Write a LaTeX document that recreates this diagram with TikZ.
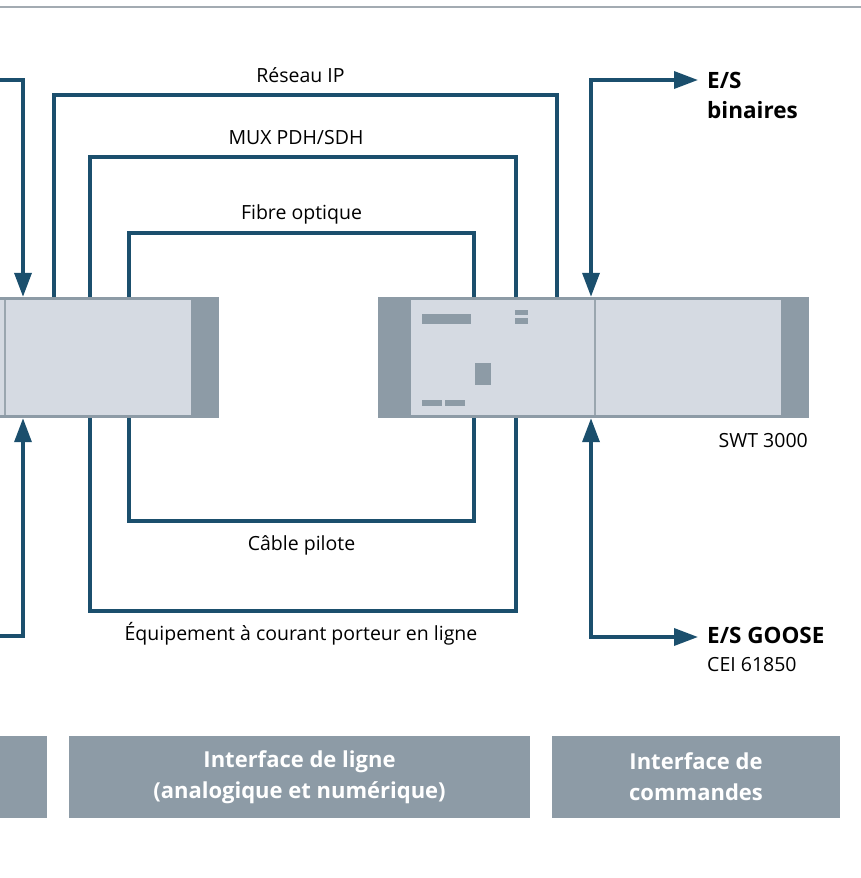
\documentclass[tikz,border=0pt]{standalone}
\usepackage{fontspec}
\setmainfont{Open Sans}
\usetikzlibrary{arrows.meta,positioning}

\definecolor{linkblue}{HTML}{1B4F6D}
\definecolor{devdark}{HTML}{8D9BA6}
\definecolor{devlight}{HTML}{D5DAE2}
\definecolor{divgray}{HTML}{9AA6AF}
\definecolor{rulegray}{HTML}{A3ABB2}

\tikzset{
  link/.style={draw=linkblue, line width=3.5pt},
  io/.style={link, -{Triangle[length=24pt,width=17pt]}},
  iobi/.style={link, {Triangle[length=24pt,width=17pt]}-{Triangle[length=24pt,width=17pt]}},
  device/.style={fill=devdark, minimum width=431pt, minimum height=121pt, inner sep=0pt},
  panel/.style={fill=devlight},
  lbl/.style={font=\fontsize{19.5}{22}\selectfont, inner sep=0pt},
  iolbl/.style={font=\fontsize{22.5}{30}\selectfont\bfseries, inner sep=0pt},
  bar/.style={fill=devdark, text=white, font=\fontsize{22}{31}\selectfont\bfseries,
    align=center, minimum height=82pt, inner sep=0pt},
}

\begin{document}
\begin{tikzpicture}[x=1pt, y=-1pt]

    % Frame of the picture
    \useasboundingbox (0,0) rectangle (861,878);
    \clip (0,0) rectangle (861,878);

    % Top rule
    \draw[rulegray, line width=1.5pt] (0,7) -- (861,7);

    % The two devices (the left one is cut by the frame)
    \node[device] (ldev) at (3.5,357.5) {};
    \node[device] (rdev) at (593.5,357.5) {};
    \fill[panel] (-179,300) rectangle (191,415);
    \fill[panel] (411,300) rectangle (781,415);
    \draw[divgray, line width=1.5pt] (5,300) -- (5,415);
    \draw[divgray, line width=1.5pt] (595,300) -- (595,415);

    % Front details of the right device
    \fill[devdark] (422,314) rectangle (471,324);
    \fill[devdark] (515,310) rectangle (528,315);
    \fill[devdark] (515,318) rectangle (528,324);
    \fill[devdark] (475,363) rectangle (491,385);
    \fill[devdark] (422,400) rectangle (442,406);
    \fill[devdark] (445,400) rectangle (465,406);

    % Corners of the transmission paths
    \coordinate (ipL) at (54,95);   \coordinate (ipR) at (557,95);
    \coordinate (muxL) at (90,157); \coordinate (muxR) at (516,157);
    \coordinate (fibL) at (129,233); \coordinate (fibR) at (474,233);
    \coordinate (pilL) at (129,521); \coordinate (pilR) at (474,521);
    \coordinate (plcL) at (90,611); \coordinate (plcR) at (516,611);

    % Paths above the devices
    \draw[link] (ldev.north -| ipL) -- (ipL) -- (ipR) -- (rdev.north -| ipR);
    \draw[link] (ldev.north -| muxL) -- (muxL) -- (muxR) -- (rdev.north -| muxR);
    \draw[link] (ldev.north -| fibL) -- (fibL) -- (fibR) -- (rdev.north -| fibR);

    % Paths below the devices
    \draw[link] (ldev.south -| pilL) -- (pilL) -- (pilR) -- (rdev.south -| pilR);
    \draw[link] (ldev.south -| plcL) -- (plcL) -- (plcR) -- (rdev.south -| plcR);

    % Path labels
    \path (ipL) -- node[lbl, anchor=base, xshift=-5pt, yshift=13pt] (iplbl) {Réseau IP} (ipR);
    \path (muxL) -- node[lbl, anchor=base, xshift=-7pt, yshift=13pt] (muxlbl) {MUX PDH/SDH} (muxR);
    \path (fibL) -- node[lbl, anchor=base, yshift=14pt] (fiblbl) {Fibre optique} (fibR);
    \path (pilL) -- node[lbl, anchor=base, yshift=-29pt] (pillbl) {Câble pilote} (pilR);
    \path (plcL) -- node[lbl, anchor=base, xshift=-2pt, yshift=-29pt] (plclbl) {Équipement à courant porteur en ligne} (plcR);

    % Inputs and outputs of the devices
    \coordinate (lioT) at ([xshift=19.5pt]ldev.north);
    \coordinate (lioB) at ([xshift=19.5pt]ldev.south);
    \coordinate (rioT) at ([xshift=-2.5pt]rdev.north);
    \coordinate (rioB) at ([xshift=-2.5pt]rdev.south);
    \coordinate (linT) at (-10,80);
    \coordinate (linB) at (-10,636);
    \coordinate (binTip) at (698,80);
    \coordinate (gooseTip) at (698,637);

    \draw[io] (linT) -| (lioT);
    \draw[io] (linB) -| (lioB);
    \draw[iobi] (rioT) |- (binTip);
    \draw[iobi] (rioB) |- (gooseTip);

    % Input/output labels
    \node[iolbl, anchor=base west] (esbin) at (707,88) {E/S};
    \node[iolbl, anchor=base west] (esbin2) at ([yshift=-30pt]esbin.base west) {binaires};
    \node[iolbl, anchor=base west] (goose) at (707,643) {E/S GOOSE};
    \node[lbl, anchor=base west] (cei) at ([yshift=-28pt]goose.base west) {CEI 61850};

    % Device name
    \node[lbl, anchor=base east] (swt) at (808,447) {SWT 3000};

    % Interface bars
    \node[bar, minimum width=57pt] (leftif) at (18.5,777) {};
    \node[bar, minimum width=461pt] (lineif) at (299.5,777) {Interface de ligne\\(analogique et numérique)};
    \node[bar, minimum width=288pt] (cmdif) at (696,777) {Interface de\\commandes};

\end{tikzpicture}
\end{document}
